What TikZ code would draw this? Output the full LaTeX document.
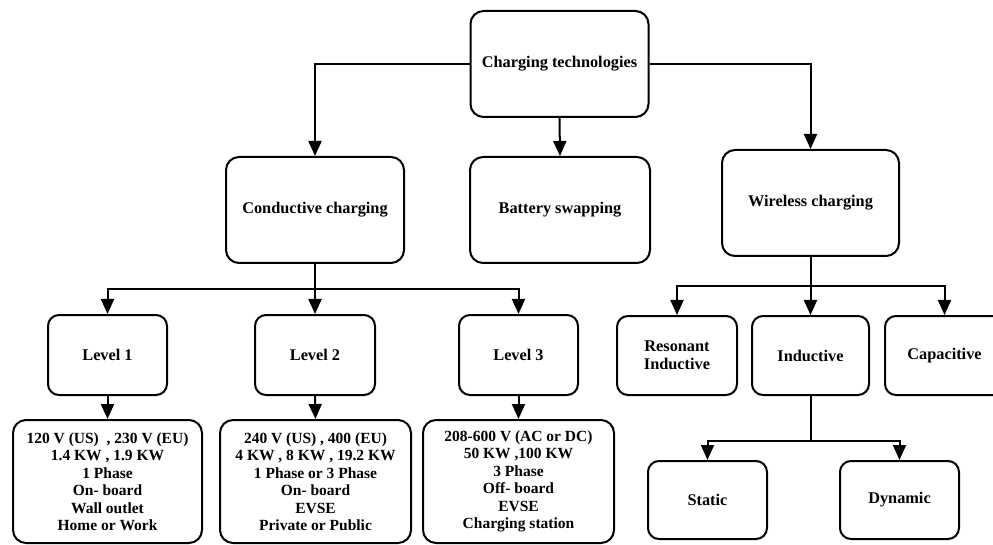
\documentclass[tikz,border=0pt]{standalone}
\usepackage{fontspec}
\setmainfont{Liberation Serif}
\usetikzlibrary{arrows.meta}
\begin{document}
\begin{tikzpicture}[x=1pt,y=-1pt,
  box/.style={draw,line width=2pt,rounded corners=13pt,align=center,inner sep=0pt,
    font=\fontsize{16.3}{17.5}\selectfont\bfseries},
  bigbox/.style={box,minimum width=178pt,minimum height=106pt},
  midbox/.style={box,rounded corners=11pt,minimum width=119pt,minimum height=79pt},
  detbox/.style={box,minimum width=190pt,minimum height=123pt,
    font=\fontsize{15.5}{17.5}\selectfont\bfseries},
  arr/.style={line width=2pt,-{Triangle[length=15pt,width=13pt]}},
  ln/.style={line width=2pt}]
\useasboundingbox (0,0) rectangle (993,545);
\node[bigbox] (top) at (559.5,64) {Charging technologies};
\node[bigbox] (cond) at (315,210) {Conductive charging};
\node[bigbox,minimum width=180pt] (batt) at (560,210) {Battery swapping};
\node[bigbox,minimum width=177pt] (wire) at (810.5,203) {Wireless charging};
\node[midbox,minimum height=80pt] (l1) at (107.5,355) {Level 1};
\node[midbox,minimum height=80pt,minimum width=120pt] (l2) at (315,355) {Level 2};
\node[midbox,minimum height=80pt] (l3) at (518.5,355) {Level 3};
\node[midbox,minimum width=120pt] (res) at (677,355.5) {Resonant\\Inductive};
\node[midbox,minimum width=117pt] (ind) at (810.5,355.5) {Inductive};
\node[midbox] (cap) at (944.5,355.5) {Capacitive};
\node[detbox,minimum width=189pt] (d1) at (107.5,481.5) {120 V (US)\ \ , 230 V (EU)\\1.4 KW , 1.9 KW\\1 Phase\\On- board\\Wall outlet\\Home or Work};
\node[detbox,minimum width=191pt] (d2) at (315.5,481.5) {240 V (US) , 400 (EU)\\4 KW , 8 KW , 19.2 KW\\1 Phase or 3 Phase\\On- board\\EVSE\\Private or Public};
\node[detbox,minimum width=191pt] (d3) at (518.5,481.5) {208-600 V (AC or DC)\\50 KW ,100 KW\\3 Phase\\Off- board\\EVSE\\Charging station};
\node[midbox,minimum height=78pt] (st) at (707.5,500) {Static};
\node[midbox,minimum height=78pt] (dy) at (899.5,500) {Dynamic};
\coordinate (cj) at (315,289);
\coordinate (wj) at (810.5,286);
\coordinate (ij) at (810.5,441);
\draw[arr] (top.west) -| (cond.north);
\draw[arr] (top.east) -| (wire.north);
\draw[arr] (top.south) -- (batt.north);
\draw[arr] (cond.south) -- (l2.north);
\draw[arr] (cj) -| (l1.north);
\draw[arr] (cj) -| (l3.north);
\draw[arr] (wire.south) -- (ind.north);
\draw[arr] (wj) -| (res.north);
\draw[arr] (wj) -| (cap.north);
\draw[ln] (ind.south) -- (ij);
\draw[arr] (ij) -| (st.north);
\draw[arr] (ij) -| (dy.north);
\draw[arr] (l1.south) -- (d1.north);
\draw[arr] (l2.south) -- (d2.north);
\draw[arr] (l3.south) -- (d3.north);
\end{tikzpicture}
\end{document}
